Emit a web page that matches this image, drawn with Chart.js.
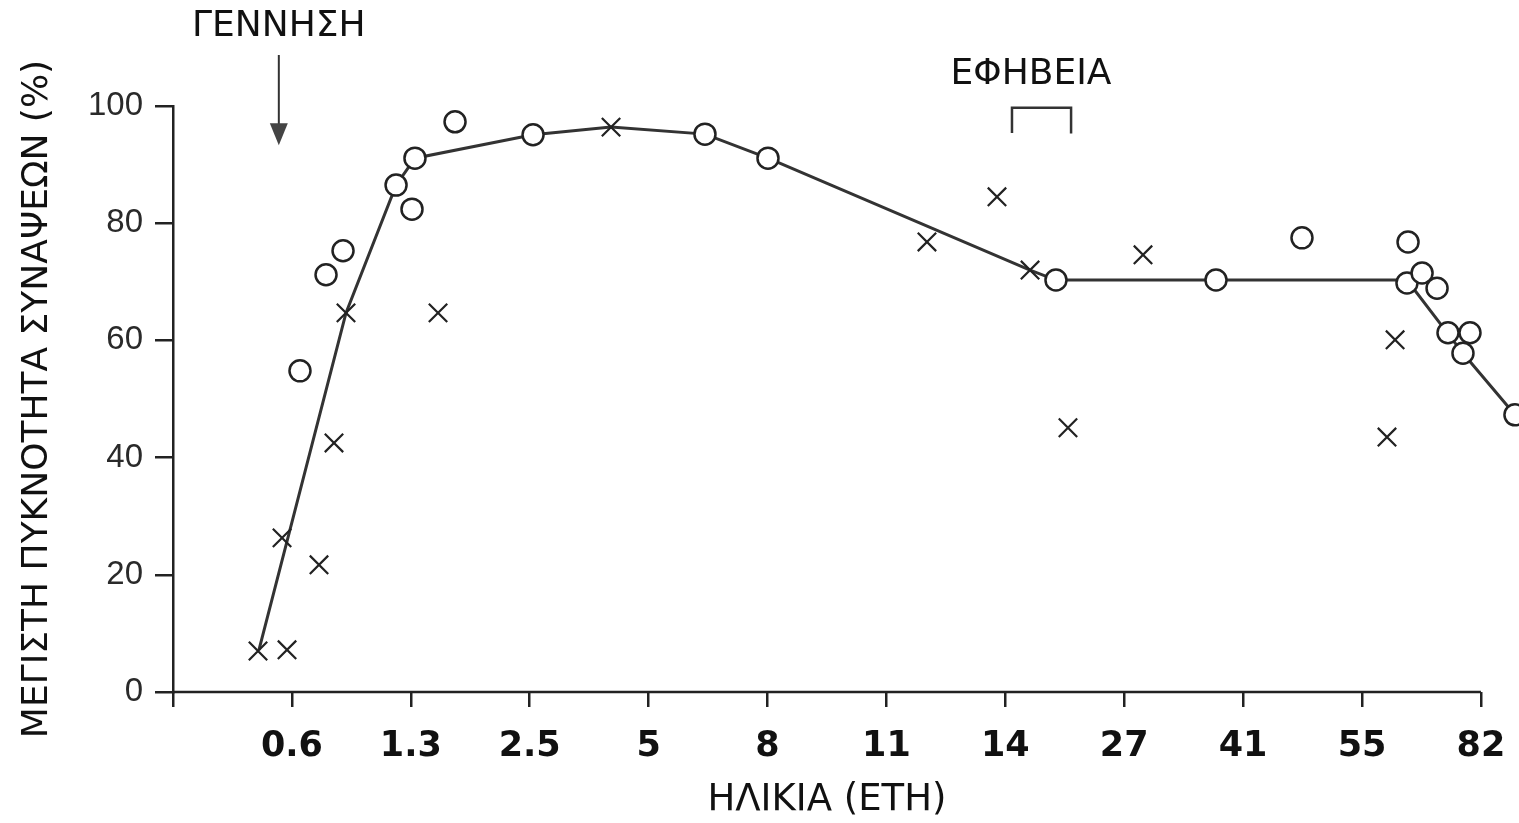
<!DOCTYPE html>
<html>
<head>
<meta charset="utf-8">
<script src="https://cdn.jsdelivr.net/npm/chart.js@4"></script>
<style>
html,body{margin:0;padding:0;background:#fff;}
canvas{display:block;}
</style>
</head>
<body>
<canvas id="c" width="1519" height="823"></canvas>
<script>
// Age tick labels (evenly spaced positions 1..11 on the axis)
const tickLabels = ['0.6','1.3','2.5','5','8','11','14','27','41','55','82'];

// Fitted line (position on age axis, % of max synapse density)
const lineX = [0.723, 1.455, 1.876, 2.035, 3.028, 3.684, 4.474, 5.004, 7.208, 7.426, 8.772, 10.378, 10.849, 11.286];
const lineY = [7.2, 64.7, 86.5, 91.1, 95.1, 96.4, 95.2, 91.1, 72.0, 70.3, 70.3, 70.3, 57.8, 47.3];

// Circle markers
const circleX = [1.068, 1.287, 1.430, 1.876, 2.035, 2.010, 2.372, 3.028, 4.474, 5.004, 7.426, 8.772, 9.495, 10.387, 10.378, 10.505, 10.631, 10.723, 10.908, 10.849, 11.286];
const circleY = [54.8, 71.2, 75.3, 86.5, 91.1, 82.4, 97.3, 95.1, 95.2, 91.1, 70.3, 70.3, 77.5, 76.8, 69.8, 71.5, 68.9, 61.3, 61.3, 57.8, 47.3];

// Cross markers
const crossX = [0.715, 0.959, 0.917, 1.228, 1.354, 1.455, 2.229, 3.684, 6.341, 6.930, 7.208, 8.158, 7.527, 10.278, 10.210];
const crossY = [7.0, 7.2, 26.3, 21.7, 42.5, 64.7, 64.7, 96.4, 76.8, 84.5, 72.0, 74.6, 45.1, 60.1, 43.5];

// Texts
const birthLabel = 'ΓΕΝΝΗΣΗ';
const pubertyLabel = 'ΕΦΗΒΕΙΑ';
const xTitle = 'ΗΛΙΚΙΑ (ΕΤΗ)';
const yTitle = 'ΜΕΓΙΣΤΗ ΠΥΚΝΟΤΗΤΑ ΣΥΝΑΨΕΩΝ (%)';

const toPts = (xs, ys) => xs.map((x, i) => ({x, y: ys[i]}));

const axisLine = {
  id: 'axisLine',
  beforeDatasetsDraw(chart) {
    const ctx = chart.ctx, xs = chart.scales.x;
    const y = chart.chartArea.bottom;
    ctx.save();
    ctx.strokeStyle = '#222';
    ctx.lineWidth = 2.5;
    ctx.beginPath();
    ctx.moveTo(xs.getPixelForValue(0), y);
    ctx.lineTo(xs.getPixelForValue(tickLabels.length), y);
    ctx.stroke();
    ctx.restore();
  }
};

const annotate = {
  id: 'annotate',
  afterDraw(chart) {
    const ctx = chart.ctx, xs = chart.scales.x, ys = chart.scales.y;
    ctx.save();
    ctx.fillStyle = '#111';
    ctx.strokeStyle = '#333';
    ctx.textAlign = 'center';
    ctx.textBaseline = 'middle';
    // x-axis title, centred under the drawn axis
    ctx.font = '37px "DejaVu Sans"';
    ctx.fillText(xTitle, (xs.getPixelForValue(0) + xs.getPixelForValue(tickLabels.length)) / 2, 800);
    ctx.font = '36px "DejaVu Sans"';
    // birth
    const bx = xs.getPixelForValue(0.89);
    ctx.fillText(birthLabel, bx, ys.getPixelForValue(113.5));
    const y1 = ys.getPixelForValue(108.7), y2 = ys.getPixelForValue(93.3);
    ctx.lineWidth = 2;
    ctx.beginPath(); ctx.moveTo(bx, y1); ctx.lineTo(bx, y2 - 18); ctx.stroke();
    ctx.fillStyle = '#444';
    ctx.beginPath(); ctx.moveTo(bx - 9, y2 - 22); ctx.lineTo(bx + 9, y2 - 22); ctx.lineTo(bx, y2); ctx.closePath(); ctx.fill();
    // puberty
    ctx.fillStyle = '#111';
    ctx.fillText(pubertyLabel, xs.getPixelForValue(7.216), ys.getPixelForValue(105.3));
    const pa = xs.getPixelForValue(7.056), pb = xs.getPixelForValue(7.553);
    const pt = ys.getPixelForValue(99.7), pbm = ys.getPixelForValue(95.4);
    ctx.lineWidth = 2.5;
    ctx.beginPath(); ctx.moveTo(pa, pbm); ctx.lineTo(pa, pt); ctx.lineTo(pb, pt); ctx.lineTo(pb, pbm + 0.5); ctx.stroke();
    ctx.restore();
  }
};

new Chart(document.getElementById('c'), {
  type: 'scatter',
  data: {
    datasets: [
      {
        label: 'circles',
        data: toPts(circleX, circleY),
        pointStyle: 'circle',
        pointRadius: 10.5,
        pointBorderWidth: 2.5,
        pointBorderColor: '#222',
        pointBackgroundColor: '#fff',
        clip: false
      },
      {
        label: 'crosses',
        data: toPts(crossX, crossY),
        pointStyle: 'crossRot',
        pointRadius: 13,
        pointBorderWidth: 2.2,
        pointBorderColor: '#222',
        clip: false
      },
      {
        label: 'trend',
        data: toPts(lineX, lineY),
        showLine: true,
        borderColor: '#333',
        borderWidth: 3,
        pointRadius: 0,
        clip: false
      }
    ]
  },
  options: {
    responsive: false,
    devicePixelRatio: 1,
    animation: false,
    layout: { autoPadding: false, padding: { top: 106, right: 2.4, left: 0, bottom: 0 } },
    plugins: { legend: { display: false }, tooltip: { enabled: false } },
    scales: {
      x: {
        type: 'linear',
        min: 0, max: 11.3,
        afterBuildTicks: s => { s.ticks = tickLabels.map((_, i) => ({value: i + 1})); s.ticks.unshift({value: 0}); },
        afterFit: s => { s.height = 131; s.paddingLeft = 0; s.paddingRight = 0; },
        border: { display: false },
        grid: { drawOnChartArea: false, drawTicks: true, tickLength: 15, color: '#222', lineWidth: 2.5 },
        ticks: {
          autoSkip: false, maxRotation: 0, padding: 19, color: '#111',
          font: { family: 'DejaVu Sans', weight: 'bold', size: 35 },
          callback: v => (v >= 1 && v <= tickLabels.length) ? tickLabels[v - 1] : ''
        },
        title: { display: false }
      },
      y: {
        min: 0, max: 100,
        afterFit: s => { s.width = 173; },
        border: { display: true, color: '#222', width: 2.5 },
        grid: { drawOnChartArea: false, drawTicks: true, tickLength: 18, color: '#222', lineWidth: 2.5 },
        ticks: {
          stepSize: 20, padding: 12, color: '#2a2a2a',
          font: { family: 'Liberation Sans', size: 33 }
        },
        title: { display: true, text: yTitle, color: '#111', padding: { top: 16, bottom: 0 },
          font: { family: 'DejaVu Sans', size: 36 } }
      }
    }
  },
  plugins: [axisLine, annotate]
});
</script>
</body>
</html>
